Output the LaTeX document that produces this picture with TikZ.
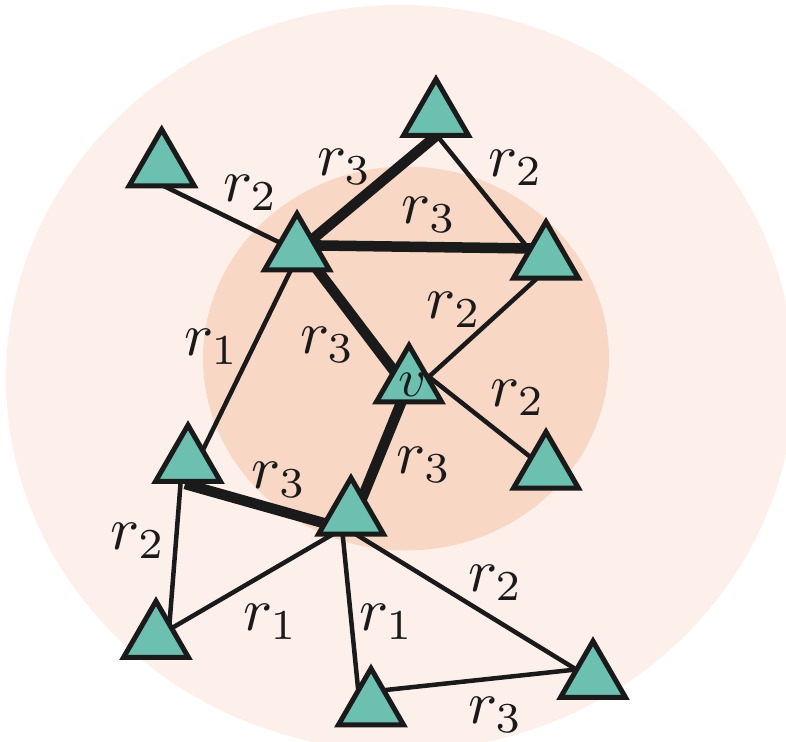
\documentclass[tikz,border=0pt]{standalone}
\usetikzlibrary{shapes.geometric}
\definecolor{outerc}{HTML}{FDF0EB}
\definecolor{innerc}{HTML}{F8D8C4}
\definecolor{tealc}{HTML}{6BC0AF}
\definecolor{ink}{HTML}{1A1A1A}
\begin{document}
\begin{tikzpicture}[x=1pt,y=-1pt,
  tri/.style={regular polygon, regular polygon sides=3, minimum size=75.06pt,
    inner sep=0pt, outer sep=0pt, draw=ink, fill=tealc, line width=5pt,
    line join=miter, miter limit=10},
  edgethin/.style={draw=ink, line width=4.5pt},
  edgethick/.style={draw=ink, line width=10.5pt},
  lbl/.style={inner sep=0pt, anchor=base west, text=ink, scale=6.1},
  vlbl/.style={inner sep=0pt, anchor=base west, text=ink, scale=5.4}]
\useasboundingbox (0,0) rectangle (786,741);
\clip (0,0) rectangle (786,741);
% background discs
\fill[outerc] (400,378) ellipse [x radius=394pt, y radius=373pt];
\fill[innerc] (406,358.5) ellipse [x radius=203pt, y radius=192pt];
% edge end points
\coordinate (e1s) at (161.7,185);   \coordinate (e1t) at (297,251);
\coordinate (e2s) at (438,134.3);   \coordinate (e2t) at (302,248);
\coordinate (e3s) at (300,245.2);   \coordinate (e3t) at (533,248.5);
\coordinate (e4s) at (436.5,135);   \coordinate (e4t) at (530,250.5);
\coordinate (e5s) at (540,275.6);   \coordinate (e5t) at (425,380.3);
\coordinate (e6s) at (423,372.1);   \coordinate (e6t) at (535,460.6);
\coordinate (e7s) at (311,261.4);   \coordinate (e7t) at (398,376.2);
\coordinate (e8s) at (293,265.6);   \coordinate (e8t) at (200,456);
\coordinate (e9s) at (185,484);     \coordinate (e9t) at (327,524);
\coordinate (e10s) at (180.5,484);  \coordinate (e10t) at (169.3,626);
\coordinate (e11s) at (359,506);    \coordinate (e11t) at (403,398);
\coordinate (e12s) at (340,530.1);  \coordinate (e12t) at (168,630.3);
\coordinate (e13s) at (342,528);    \coordinate (e13t) at (358.5,693);
\coordinate (e14s) at (350,530.7);  \coordinate (e14t) at (579,671.2);
\coordinate (e15s) at (380,690.6);  \coordinate (e15t) at (578,669.3);
% edges
\draw[edgethin]  (e1s) -- (e1t);
\draw[edgethick] (e2s) -- (e2t);
\draw[edgethick] (e3s) -- (e3t);
\draw[edgethin]  (e4s) -- (e4t);
\draw[edgethin]  (e5s) -- (e5t);
\draw[edgethin]  (e6s) -- (e6t);
\draw[edgethick] (e7s) -- (e7t);
\draw[edgethin]  (e8s) -- (e8t);
\draw[edgethick] (e9s) -- (e9t);
\draw[edgethin]  (e10s) -- (e10t);
\draw[edgethick] (e11s) -- (e11t);
\draw[edgethin]  (e12s) -- (e12t);
\draw[edgethin]  (e13s) -- (e13t);
\draw[edgethin]  (e14s) -- (e14t);
\draw[edgethin]  (e15s) -- (e15t);
% triangles
\node[tri] (T1) at (436,116.7) {};
\node[tri] (T2) at (161.7,167) {};
\node[tri] (A) at (297,251.2) {};
\node[tri] (T4) at (546,259.4) {};
\node[tri] (V) at (409,383) {};
\node[tri] (T6) at (546,469.4) {};
\node[tri] (T7) at (188,462.7) {};
\node[tri] (B) at (351,515.4) {};
\node[tri] (T9) at (156,638.7) {};
\node[tri] (T10) at (371,706) {};
\node[tri] (T11) at (593,678.7) {};
% labels
\node[vlbl] (vl) at (397,396) {$v$};
\node[lbl] (L1) at (222,201.7) {$r_2$};
\node[lbl] (L2) at (316,175) {$r_3$};
\node[lbl] (L3) at (487,176) {$r_2$};
\node[lbl] (L4) at (400.7,223.3) {$r_3$};
\node[lbl] (L5) at (425.7,318.3) {$r_2$};
\node[lbl] (L6) at (299,353.3) {$r_3$};
\node[lbl] (L7) at (183,355) {$r_1$};
\node[lbl] (L8) at (489,406.7) {$r_2$};
\node[lbl] (L9) at (395.7,473.3) {$r_3$};
\node[lbl] (L10) at (250.7,488.3) {$r_3$};
\node[lbl] (L11) at (109.7,549) {$r_2$};
\node[lbl] (L12) at (241.9,630) {$r_1$};
\node[lbl] (L13) at (357.9,630) {$r_1$};
\node[lbl] (L14) at (466.9,591.7) {$r_2$};
\node[lbl] (L15) at (466.9,723.3) {$r_3$};
\end{tikzpicture}
\end{document}
